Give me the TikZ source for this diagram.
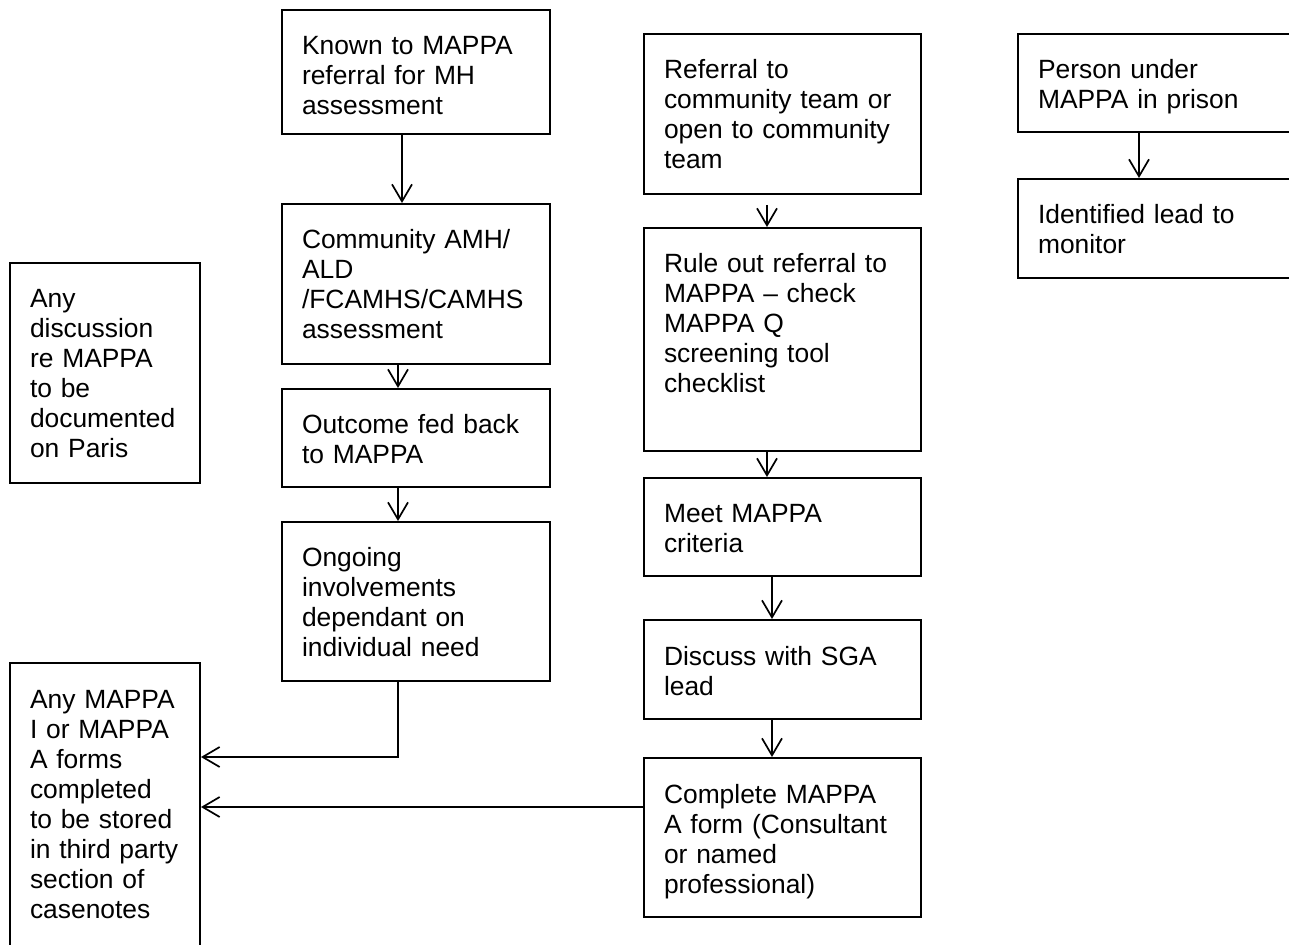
\documentclass[tikz,border=0pt]{standalone}
\usepackage{fontspec}
\setmainfont{Liberation Sans}
\usetikzlibrary{arrows.meta}

\begin{document}
\begin{tikzpicture}[x=0.5pt,y=-0.5pt,>={Straight Barb[length=8.5pt,width=10pt]},
  box/.style={draw,line width=1pt,anchor=north west,inner xsep=10pt,inner ysep=0pt,
    align=left,text height=22.5pt,font=\fontsize{13.2}{15}\selectfont},
  link/.style={->,line width=0.85pt}]

  \useasboundingbox (0,0) rectangle (1289,945);

  \def\Ax{402};
  \def\Bx{398};
  \def\Cx{767};
  \def\Dx{772};
  \def\Ex{1139};
  \def\Fy{757};
  \def\Gy{807};

  \begin{scope}   % levy sloupec: znamy MAPPA

    \node[box,text width=114pt,text depth=39.5pt] (known) at (281,9)
         {Known to MAPPA\\referral for MH\\assessment};
    \node[box,text width=114pt,text depth=57.5pt] (comm) at (281,203)
         {Community AMH/\\ALD\\/FCAMHS/CAMHS\\assessment};
    \node[box,text width=114pt,text depth=26.5pt] (outcome) at (281,388)
         {Outcome fed back\\to MAPPA};
    \node[box,text width=114pt,text depth=57pt] (ongoing) at (281,521)
         {Ongoing\\involvements\\dependant on\\individual need};

    \draw[link] (known.south -| \Ax,0)--(comm.north -| \Ax,0);
    \draw[link] (comm.south -| \Bx,0)--(outcome.north -| \Bx,0);
    \draw[link] (outcome.south -| \Bx,0)--(ongoing.north -| \Bx,0);

  \end{scope}

  \begin{scope}   % prostredni sloupec: komunitni tym

    \node[box,text width=118.5pt,text depth=57.5pt] (referral) at (643,33)
         {Referral to\\community team or\\open to community\\team};
    \node[box,text width=118.5pt,text depth=89pt] (ruleout) at (643,227)
         {Rule out referral to\\MAPPA -- check\\MAPPA Q\\screening tool\\checklist};
    \node[box,text width=118.5pt,text depth=26.5pt] (meet) at (643,477)
         {Meet MAPPA\\criteria};
    \node[box,text width=118.5pt,text depth=27pt] (discuss) at (643,619)
         {Discuss with SGA\\lead};
    \node[box,text width=118.5pt,text depth=57pt] (complete) at (643,757)
         {Complete MAPPA\\A form (Consultant\\or named\\professional)};

    \draw[link] ([yshift=-5pt]referral.south -| \Cx,0)--(ruleout.north -| \Cx,0);
    \draw[link] (ruleout.south -| \Cx,0)--(meet.north -| \Cx,0);
    \draw[link] (meet.south -| \Dx,0)--(discuss.north -| \Dx,0);
    \draw[link] (discuss.south -| \Dx,0)--(complete.north -| \Dx,0);

  \end{scope}

  \begin{scope}   % pravy sloupec: ve vezeni

    \node[box,text width=130pt,text depth=26.5pt] (person) at (1017,33)
         {Person under\\MAPPA in prison};
    \node[box,text width=130pt,text depth=27pt] (lead) at (1017,178)
         {Identified lead to\\monitor};

    \draw[link] (person.south -| \Ex,0)--(lead.north -| \Ex,0);

  \end{scope}

  \begin{scope}   % poznamky vlevo

    \node[box,text width=75pt,text depth=87.5pt] (paris) at (9,262)
         {Any\\discussion\\re MAPPA\\to be\\documented\\on Paris};
    \node[box,text width=75pt,text depth=127.5pt] (forms) at (9,662)
         {Any MAPPA\\I or MAPPA\\A forms\\completed\\to be stored\\in third party\\section of\\casenotes};

    \draw[link] (ongoing.south -| \Bx,0) |- (forms.east |- 0,\Fy);
    \draw[link] (complete.west |- 0,\Gy)--(forms.east |- 0,\Gy);

  \end{scope}

\end{tikzpicture}
\end{document}
